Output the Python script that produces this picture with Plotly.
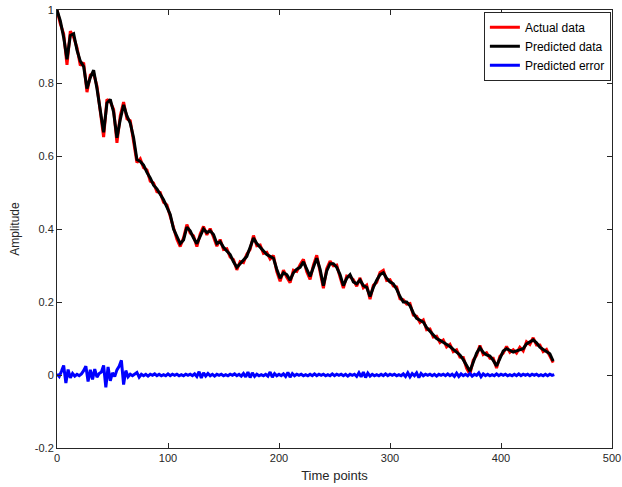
import plotly.graph_objects as go

# time grid for data series (every 3 time points)
t_series = list(range(0, 448, 3))

predicted_data = [
    1.000, 0.970, 0.925, 0.865, 0.930, 0.935, 0.890, 0.860, 0.845, 0.785,
    0.815, 0.835, 0.785, 0.730, 0.665, 0.745, 0.755, 0.720, 0.650, 0.700,
    0.740, 0.710, 0.690, 0.650, 0.590, 0.585, 0.575, 0.555, 0.540, 0.520,
    0.510, 0.495, 0.480, 0.460, 0.440, 0.400, 0.380, 0.360, 0.370, 0.405,
    0.395, 0.375, 0.360, 0.380, 0.400, 0.390, 0.395, 0.385, 0.360, 0.365,
    0.350, 0.340, 0.330, 0.310, 0.295, 0.305, 0.315, 0.325, 0.350, 0.375,
    0.360, 0.350, 0.340, 0.330, 0.325, 0.320, 0.290, 0.265, 0.280, 0.275,
    0.260, 0.280, 0.290, 0.295, 0.310, 0.290, 0.270, 0.295, 0.320, 0.290,
    0.245, 0.285, 0.305, 0.305, 0.295, 0.275, 0.245, 0.265, 0.275, 0.255,
    0.250, 0.260, 0.245, 0.240, 0.215, 0.240, 0.260, 0.275, 0.280, 0.265,
    0.255, 0.250, 0.235, 0.215, 0.200, 0.200, 0.190, 0.170, 0.155, 0.150,
    0.145, 0.130, 0.120, 0.110, 0.100, 0.095, 0.090, 0.083, 0.078, 0.070,
    0.063, 0.055, 0.042, 0.025, 0.010, 0.035, 0.060, 0.075, 0.062, 0.055,
    0.052, 0.040, 0.025, 0.045, 0.066, 0.072, 0.068, 0.063, 0.066, 0.070,
    0.072, 0.085, 0.090, 0.096, 0.088, 0.076, 0.070, 0.064, 0.058, 0.038,
]

actual_data = [
    1.000, 0.962, 0.935, 0.850, 0.942, 0.925, 0.897, 0.848, 0.856, 0.775,
    0.822, 0.826, 0.792, 0.718, 0.652, 0.755, 0.748, 0.728, 0.636, 0.710,
    0.748, 0.702, 0.697, 0.640, 0.582, 0.592, 0.568, 0.562, 0.531, 0.526,
    0.502, 0.500, 0.473, 0.466, 0.433, 0.406, 0.372, 0.352, 0.376, 0.412,
    0.389, 0.381, 0.352, 0.386, 0.407, 0.384, 0.401, 0.378, 0.353, 0.371,
    0.344, 0.346, 0.323, 0.316, 0.288, 0.311, 0.308, 0.331, 0.344, 0.382,
    0.354, 0.356, 0.333, 0.336, 0.318, 0.327, 0.283, 0.257, 0.287, 0.268,
    0.253, 0.287, 0.284, 0.302, 0.317, 0.283, 0.262, 0.301, 0.328, 0.283,
    0.238, 0.291, 0.312, 0.299, 0.301, 0.268, 0.238, 0.271, 0.269, 0.261,
    0.243, 0.266, 0.239, 0.246, 0.208, 0.246, 0.254, 0.281, 0.287, 0.259,
    0.261, 0.244, 0.241, 0.209, 0.206, 0.194, 0.196, 0.164, 0.161, 0.144,
    0.151, 0.124, 0.126, 0.104, 0.106, 0.089, 0.096, 0.077, 0.084, 0.064,
    0.069, 0.049, 0.048, 0.019, 0.002, 0.041, 0.054, 0.081, 0.056, 0.061,
    0.046, 0.046, 0.019, 0.051, 0.060, 0.078, 0.062, 0.069, 0.060, 0.076,
    0.066, 0.091, 0.084, 0.102, 0.082, 0.082, 0.064, 0.070, 0.052, 0.034,
]

# error sampled every 2 time points
t_error = list(range(0, 449, 2))
predicted_error = [
    0.003, -0.004, 0.010, 0.026, -0.022, 0.015, -0.008, 0.004, -0.003, 0.002,
    -0.002, 0.003, 0.012, 0.024, -0.018, 0.014, -0.012, 0.016, -0.006, 0.004,
    0.008, 0.026, -0.034, 0.022, -0.016, 0.006, -0.004, 0.014, 0.024, 0.040,
    -0.026, 0.012, -0.005, 0.002, -0.002, 0.003, 0.007, -0.006, 0.002, -0.002,
    0.002, -0.003, 0.002, -0.001, 0.003, -0.002, 0.002, -0.002, 0.001, -0.002,
    0.003, -0.002, 0.002, -0.001, 0.002, -0.002, 0.001, -0.002, 0.002, -0.001,
    0.002, -0.002, 0.003, -0.004, 0.009, -0.008, 0.006, -0.003, 0.004, -0.002,
    0.002, -0.003, 0.002, -0.001, 0.002, -0.002, 0.001, -0.002, 0.002, -0.001,
    0.003, -0.002, 0.002, -0.003, 0.004, -0.005, 0.008, -0.007, 0.006, -0.004,
    0.002, -0.002, 0.001, -0.002, 0.002, -0.003, 0.008, -0.006, 0.004, -0.002,
    0.002, -0.002, 0.003, -0.004, 0.007, -0.006, 0.004, -0.002, 0.002, -0.001,
    0.002, -0.002, 0.001, -0.002, 0.002, -0.002, 0.003, -0.002, 0.002, -0.001,
    0.002, -0.002, 0.001, -0.002, 0.003, -0.002, 0.002, -0.001, 0.002, -0.002,
    0.002, -0.003, 0.002, -0.001, 0.002, -0.004, 0.006, -0.005, 0.008, -0.007,
    0.005, -0.003, 0.002, -0.002, 0.001, -0.002, 0.002, -0.002, 0.003, -0.002,
    0.002, -0.001, 0.002, -0.002, 0.001, -0.002, 0.003, -0.004, 0.006, -0.005,
    0.004, -0.002, 0.006, -0.007, 0.004, -0.002, 0.002, -0.001, 0.002, -0.002,
    0.002, -0.003, 0.002, -0.001, 0.002, -0.002, 0.003, -0.002, 0.002, -0.004,
    0.005, -0.004, 0.003, -0.002, 0.002, -0.002, 0.004, -0.003, 0.002, -0.001,
    0.006, -0.005, 0.003, -0.002, 0.002, -0.002, 0.001, -0.002, 0.003, -0.002,
    0.002, -0.001, 0.002, -0.002, 0.001, -0.002, 0.002, -0.002, 0.003, -0.002,
    0.002, -0.001, 0.002, -0.002, 0.002, -0.001, 0.002, -0.002, 0.001, -0.002,
    0.002, -0.002, 0.002, -0.001, 0.001,
]

x_ticks = [0, 100, 200, 300, 400, 500]
y_ticks = [-0.2, 0, 0.2, 0.4, 0.6, 0.8, 1]
y_tick_labels = ["-0.2", "0", "0.2", "0.4", "0.6", "0.8", "1"]

fig = go.Figure()
fig.add_trace(go.Scatter(x=t_series, y=actual_data, mode="lines", name="Actual data",
                         line=dict(color="#ff0000", width=3)))
fig.add_trace(go.Scatter(x=t_series, y=predicted_data, mode="lines", name="Predicted data",
                         line=dict(color="#000000", width=3)))
fig.add_trace(go.Scatter(x=t_error, y=predicted_error, mode="lines", name="Predicted error",
                         line=dict(color="#0000ff", width=3)))

axis_common = dict(showline=True, linecolor="#262626", linewidth=1, mirror="ticks",
                   ticks="inside", ticklen=5, tickcolor="#262626", showgrid=False,
                   zeroline=False, automargin=False,
                   tickfont=dict(family="Liberation Sans, Arial", size=11, color="#262626"))

fig.update_layout(
    width=622, height=487,
    margin=dict(l=57, r=10, t=10, b=39),
    paper_bgcolor="white", plot_bgcolor="white",
    font=dict(family="Liberation Sans, Arial", size=11, color="#262626"),
    xaxis=dict(range=[0, 500], tickvals=x_ticks, **axis_common,
               title=dict(text="Time points", font=dict(size=13), standoff=7)),
    yaxis=dict(range=[-0.2, 1], tickvals=y_ticks, ticktext=y_tick_labels, **axis_common,
               title=dict(text="Amplitude", font=dict(size=12), standoff=12)),
    legend=dict(x=0.998, y=0.996, xanchor="right", yanchor="top",
                bordercolor="#262626", borderwidth=1, bgcolor="white",
                font=dict(size=12, color="#000000"), itemwidth=30,
                tracegroupgap=0),
    showlegend=True,
)

fig.write_html("out.html")
